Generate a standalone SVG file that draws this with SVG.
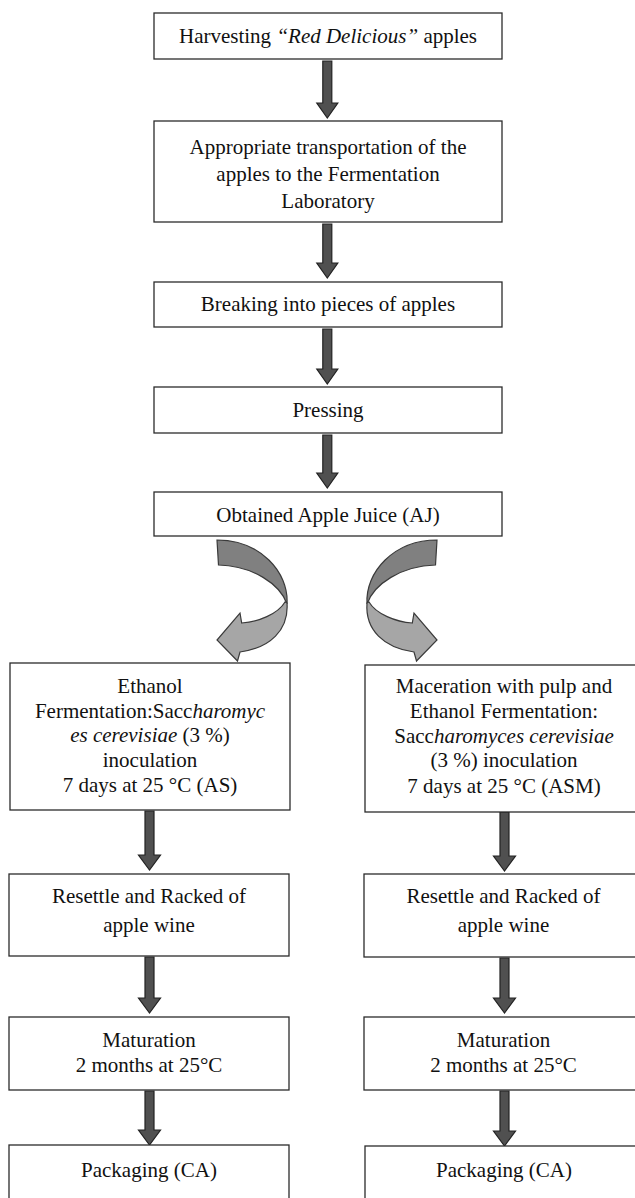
<svg xmlns="http://www.w3.org/2000/svg" width="635" height="1198" viewBox="0 0 635 1198">
<style>
.box{fill:#fff;stroke:#2b2b2b;stroke-width:1.3}
.t{font-family:'Liberation Serif','Times New Roman','DejaVu Serif',serif;font-size:21px;fill:#111;text-anchor:middle}
.i{font-style:italic}
.arr{fill:#505050;stroke:#222;stroke-width:1.2;stroke-linejoin:miter}
.cd{fill:#808080;stroke:#3a3a3a;stroke-width:1.2}
.cl{fill:#a6a6a6;stroke:#3a3a3a;stroke-width:1.2}
</style>
<rect width="635" height="1198" fill="#fff"/>
<g id="connectors">
  <path class="arr" d="M322.8,61 H331.8 V103 H337.8 L327.3,118 L316.8,103 H322.8 Z"/>
  <path class="arr" d="M322.8,224 H331.8 V263 H337.8 L327.3,278 L316.8,263 H322.8 Z"/>
  <path class="arr" d="M322.8,329 H331.8 V369 H337.8 L327.3,384 L316.8,369 H322.8 Z"/>
  <path class="arr" d="M322.8,435 H331.8 V473 H337.8 L327.3,488 L316.8,473 H322.8 Z"/>
  <g id="curved-left">
    <path class="cd" d="M217,540 C260,540 289,572 287,604 C280,584 253,566 218.5,565 Z"/>
    <path class="cl" d="M287,603 C289,630 270,648 240,652 L237.5,661 L217,640 L240,613 L241.7,623 C258,622 278,614 285,602 Z"/>
  </g>
  <g id="curved-right" transform="matrix(-1 0 0 1 654 0)">
    <path class="cd" d="M217,540 C260,540 289,572 287,604 C280,584 253,566 218.5,565 Z"/>
    <path class="cl" d="M287,603 C289,630 270,648 240,652 L237.5,661 L217,640 L240,613 L241.7,623 C258,622 278,614 285,602 Z"/>
  </g>
  <path class="arr" d="M145,811 H154 V855 H160.5 L149.5,870 L138.5,855 H145 Z"/>
  <path class="arr" d="M145,957 H154 V998 H160.5 L149.5,1013 L138.5,998 H145 Z"/>
  <path class="arr" d="M145,1091 H154 V1130 H160.5 L149.5,1145 L138.5,1130 H145 Z"/>
  <path class="arr" d="M500,812 H509 V856 H515.5 L504.5,871 L493.5,856 H500 Z"/>
  <path class="arr" d="M500,958 H509 V998 H515.5 L504.5,1013 L493.5,998 H500 Z"/>
  <path class="arr" d="M500,1091 H509 V1131 H515.5 L504.5,1146 L493.5,1131 H500 Z"/>
</g>
<g id="n1">
  <rect class="box" x="154" y="13" width="348" height="46"/>
  <text class="t" x="328" y="43">Harvesting <tspan class="i">“Red Delicious”</tspan> apples</text>
</g>
<g id="n2">
  <rect class="box" x="154" y="121" width="348" height="101"/>
  <text class="t" x="328" y="154">Appropriate transportation of the</text>
  <text class="t" x="328" y="181">apples to the Fermentation</text>
  <text class="t" x="328" y="208">Laboratory</text>
</g>
<g id="n3">
  <rect class="box" x="154" y="282" width="348" height="45"/>
  <text class="t" x="328" y="311">Breaking into pieces of apples</text>
</g>
<g id="n4">
  <rect class="box" x="154" y="387" width="348" height="46"/>
  <text class="t" x="328" y="417">Pressing</text>
</g>
<g id="n5">
  <rect class="box" x="154" y="492" width="348" height="44"/>
  <text class="t" x="328" y="522">Obtained Apple Juice (AJ)</text>
</g>
<g id="l1">
  <rect class="box" x="10" y="663" width="280" height="147"/>
  <text class="t" x="150" y="693">Ethanol</text>
  <text class="t" x="150" y="717.5">Fermentation:Sacc<tspan class="i">haromyc</tspan></text>
  <text class="t" x="150" y="742"><tspan class="i">es cerevisiae</tspan> (3 %)</text>
  <text class="t" x="150" y="766.5">inoculation</text>
  <text class="t" x="150" y="791.5">7 days at 25 °C (AS)</text>
</g>
<g id="l2">
  <rect class="box" x="9" y="874" width="280" height="82"/>
  <text class="t" x="149" y="903">Resettle and Racked of</text>
  <text class="t" x="149" y="931.5">apple wine</text>
</g>
<g id="l3">
  <rect class="box" x="9" y="1017" width="280" height="73"/>
  <text class="t" x="149" y="1047">Maturation</text>
  <text class="t" x="149" y="1072">2 months at 25°C</text>
</g>
<g id="l4">
  <rect class="box" x="9" y="1145" width="280" height="80"/>
  <text class="t" x="149" y="1177">Packaging (CA)</text>
</g>
<g id="r1">
  <rect class="box" x="365" y="665" width="279" height="147"/>
  <text class="t" x="504" y="693">Maceration with pulp and</text>
  <text class="t" x="504" y="718">Ethanol Fermentation:</text>
  <text class="t" x="504" y="743">Sacc<tspan class="i">haromyces cerevisiae</tspan></text>
  <text class="t" x="504" y="767">(3 %) inoculation</text>
  <text class="t" x="504" y="793">7 days at 25 °C (ASM)</text>
</g>
<g id="r2">
  <rect class="box" x="364" y="874" width="280" height="83"/>
  <text class="t" x="503.5" y="903">Resettle and Racked of</text>
  <text class="t" x="503.5" y="931.5">apple wine</text>
</g>
<g id="r3">
  <rect class="box" x="364" y="1017" width="280" height="73"/>
  <text class="t" x="503.5" y="1047">Maturation</text>
  <text class="t" x="503.5" y="1072">2 months at 25°C</text>
</g>
<g id="r4">
  <rect class="box" x="365" y="1146" width="279" height="80"/>
  <text class="t" x="504" y="1177">Packaging (CA)</text>
</g>
</svg>
